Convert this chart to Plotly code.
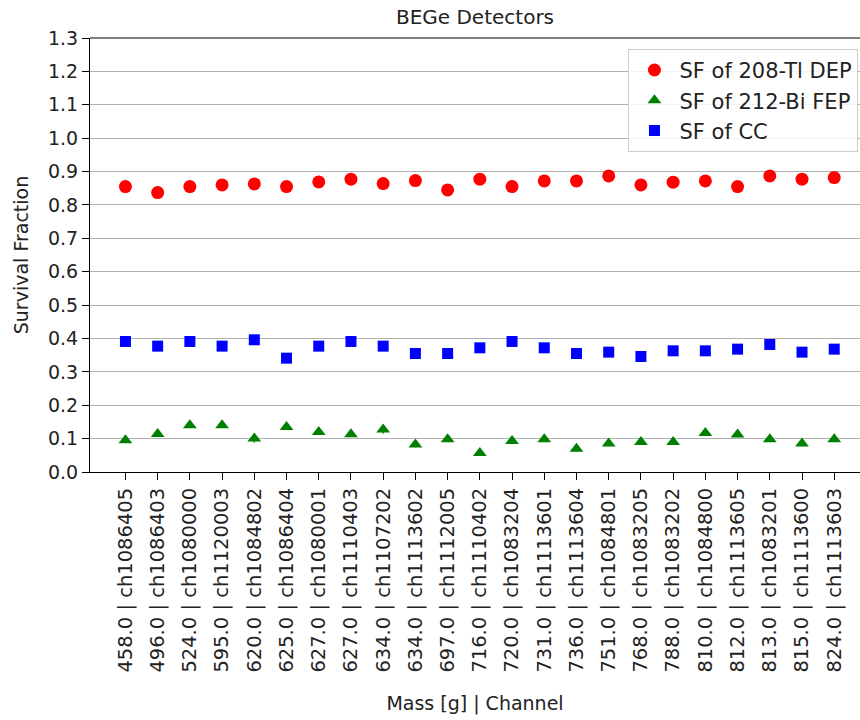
import plotly.graph_objects as go

# Detector mass and channel for each BEGe detector
masses = ["458.0", "496.0", "524.0", "595.0", "620.0", "625.0", "627.0", "627.0",
          "634.0", "634.0", "697.0", "716.0", "720.0", "731.0", "736.0", "751.0",
          "768.0", "788.0", "810.0", "812.0", "813.0", "815.0", "824.0"]
channels = ["ch1086405", "ch1086403", "ch1080000", "ch1120003", "ch1084802", "ch1086404",
            "ch1080001", "ch1110403", "ch1107202", "ch1113602", "ch1112005", "ch1110402",
            "ch1083204", "ch1113601", "ch1113604", "ch1084801", "ch1083205", "ch1083202",
            "ch1084800", "ch1113605", "ch1083201", "ch1113600", "ch1113603"]

# Survival fractions
sf_dep = [0.855, 0.837, 0.855, 0.860, 0.863, 0.855, 0.869, 0.877, 0.864, 0.873, 0.845,
          0.877, 0.855, 0.872, 0.872, 0.887, 0.860, 0.868, 0.872, 0.855, 0.887, 0.877, 0.882]
sf_fep = [0.095, 0.114, 0.140, 0.140, 0.100, 0.135, 0.120, 0.113, 0.127, 0.082, 0.098,
          0.057, 0.093, 0.098, 0.070, 0.085, 0.090, 0.090, 0.117, 0.112, 0.098, 0.085, 0.098]
sf_cc = [0.391, 0.377, 0.391, 0.377, 0.396, 0.341, 0.377, 0.391, 0.377, 0.355, 0.355,
         0.372, 0.391, 0.372, 0.355, 0.359, 0.346, 0.363, 0.363, 0.368, 0.382, 0.359, 0.368]

# Uncertainties
err_dep = [0.004] * len(sf_dep)
err_fep = [0.008, 0.008, 0.008, 0.008, 0.012, 0.008, 0.008, 0.008, 0.012, 0.008, 0.008,
           0.008, 0.008, 0.008, 0.008, 0.008, 0.008, 0.008, 0.008, 0.008, 0.008, 0.008, 0.008]
err_cc = [0.003] * len(sf_cc)

labels = [f"{m} | {c}" for m, c in zip(masses, channels)]
xs = list(range(len(labels)))

FONT = "DejaVu Sans"
TXT = "#222222"

fig = go.Figure()
fig.add_trace(go.Scatter(
    x=xs, y=sf_dep, mode="markers", name="SF of 208-Tl DEP",
    marker=dict(symbol="circle", size=13, color="red"),
    error_y=dict(type="data", array=err_dep, color="red", thickness=1.5, width=0),
))
fig.add_trace(go.Scatter(
    x=xs, y=sf_fep, mode="markers", name="SF of 212-Bi FEP",
    marker=dict(symbol="triangle-up", size=12, color="green"),
    error_y=dict(type="data", array=err_fep, color="green", thickness=1.5, width=0),
))
fig.add_trace(go.Scatter(
    x=xs, y=sf_cc, mode="markers", name="SF of CC",
    marker=dict(symbol="square", size=11, color="blue"),
    error_y=dict(type="data", array=err_cc, color="blue", thickness=1.5, width=0),
))

fig.update_layout(
    width=860, height=720,
    margin=dict(l=90, r=0, t=38, b=248),
    paper_bgcolor="white", plot_bgcolor="white",
    font=dict(family=FONT, size=19, color=TXT),
    title=dict(text="BEGe Detectors", x=0.5, xanchor="center", xref="paper",
               y=0.976, yanchor="middle", font=dict(family=FONT, size=20, color=TXT)),
    legend=dict(
        x=0.998, y=0.975, xanchor="right", yanchor="top",
        bgcolor="rgba(255,255,255,0.85)", bordercolor="#cccccc", borderwidth=1,
        font=dict(family=FONT, size=21, color=TXT),
        itemsizing="trace", itemwidth=40,
    ),
    showlegend=True,
    shapes=[dict(type="line", xref="paper", yref="paper", x0=0, x1=1, y0=1, y1=1,
                 line=dict(color="black", width=1.2))],
)

fig.update_xaxes(
    range=[-1.1, 22.8],
    tickmode="array", tickvals=xs, ticktext=labels, tickangle=-90,
    showgrid=False, zeroline=False,
    showline=True, linecolor="black", linewidth=1.2,
    ticks="outside", ticklen=7, tickcolor="black",
    tickfont=dict(family=FONT, size=19.5, color=TXT),
    title=dict(text="Mass [g] | Channel", font=dict(family=FONT, size=19, color=TXT),
               standoff=25),
)
fig.update_yaxes(
    range=[0.0, 1.3], dtick=0.1, tickformat=".1f",
    showgrid=True, gridcolor="#b0b0b0", gridwidth=1,
    zeroline=False,
    showline=True, linecolor="black", linewidth=1.2,
    ticks="outside", ticklen=7, tickcolor="black",
    tickfont=dict(family=FONT, size=19, color=TXT),
    title=dict(text="Survival Fraction", font=dict(family=FONT, size=19, color=TXT),
               standoff=14),
)

fig.write_html("out.html")
